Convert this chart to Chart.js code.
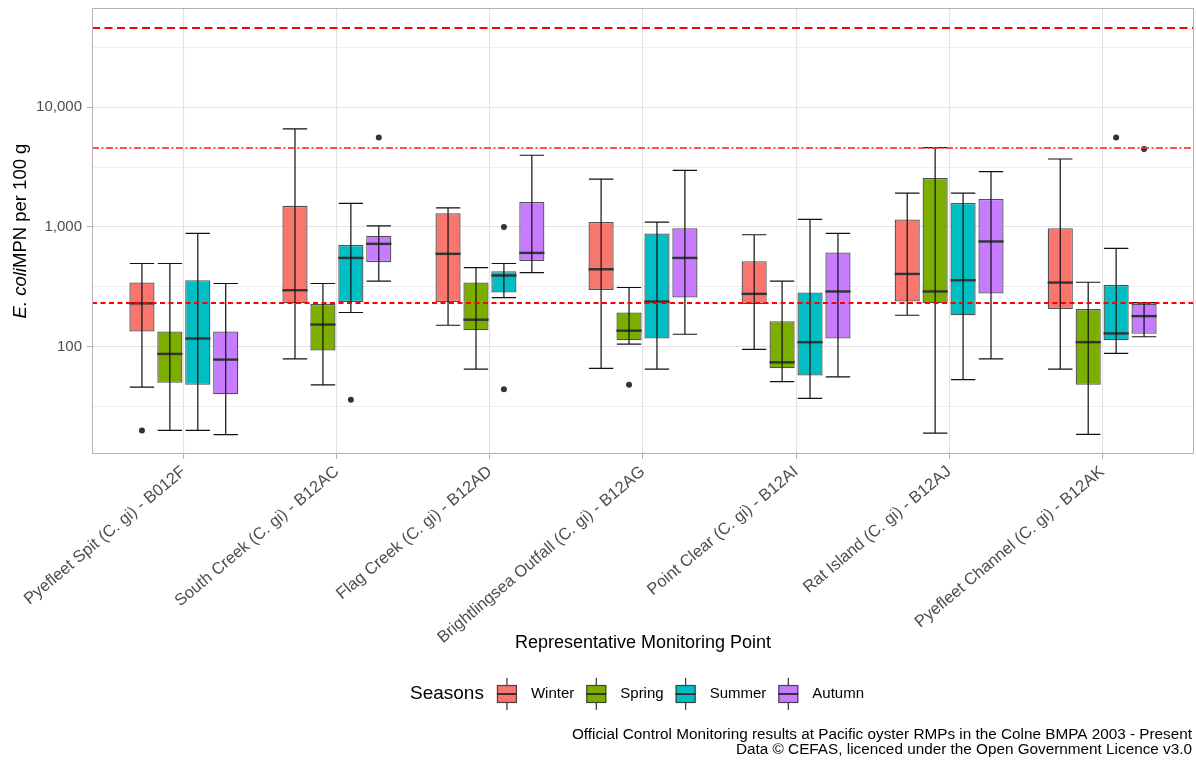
<!DOCTYPE html>
<html>
<head>
<meta charset="utf-8">
<title>E. coli results by season – Colne BMPA</title>
<script src="https://cdn.jsdelivr.net/npm/chart.js@4.4.1/dist/chart.umd.min.js"></script>
<style>
  html, body { margin: 0; padding: 0; background: #ffffff; }
  #wrap { width: 1196px; height: 760px; }
</style>
</head>
<body>
<div id="wrap"><canvas id="chart" width="1196" height="760"></canvas></div>
<script>
// Representative monitoring points (x categories)
const sites = [
  'Pyefleet Spit (C. gi) - B012F',
  'South Creek (C. gi) - B12AC',
  'Flag Creek (C. gi) - B12AD',
  'Brightlingsea Outfall (C. gi) - B12AG',
  'Point Clear (C. gi) - B12AI',
  'Rat Island (C. gi) - B12AJ',
  'Pyefleet Channel (C. gi) - B12AK'
];

const seasons = ['Winter', 'Spring', 'Summer', 'Autumn'];
const seasonColours = ['#F8766D', '#7CAE00', '#00BFC4', '#C77CFF'];

// Box summaries per site: [lower whisker, Q1, median, Q3, upper whisker] (E. coli MPN per 100 g)
const winterStats = [
  [46, 134, 230, 343, 495],
  [79, 230, 296, 1500, 6580],
  [151, 236, 596, 1300, 1440],
  [66, 298, 443, 1100, 2510],
  [95, 227, 276, 517, 860],
  [183, 238, 405, 1156, 1918],
  [65, 206, 343, 977, 3690]
];
const springStats = [
  [20, 50, 87, 134, 495],
  [48, 93, 153, 227, 337],
  [65, 137, 168, 343, 458],
  [105, 113, 136, 193, 312],
  [51, 66, 74, 163, 352],
  [19, 230, 289, 2560, 4600],
  [18.5, 48, 109, 206, 345]
];
const summerStats = [
  [20, 48, 117, 359, 882],
  [193, 236, 551, 708, 1573],
  [257, 283, 393, 427, 495],
  [65, 117, 238, 882, 1097],
  [37, 57.5, 109, 283, 1156],
  [53, 183, 359, 1582, 1918],
  [88, 113, 129, 328, 661]
];
const autumnStats = [
  [18.4, 40, 78, 134, 337],
  [352, 508, 722, 843, 1021],
  [416, 520, 607, 1613, 3966],
  [127, 257, 551, 977, 2970],
  [56, 117, 289, 612, 882],
  [79, 278, 756, 1709, 2891],
  [121, 128, 180, 229, 233]
];

// Outlying results per site
const winterOutliers = [[20], [], [], [], [], [], []];
const springOutliers = [[], [], [], [48], [], [], []];
const summerOutliers = [[], [36], [1000, 44], [], [], [], [5570]];
const autumnOutliers = [[], [5570], [], [], [], [], [4480]];

// Classification thresholds drawn as reference lines (Class A, B, C limits)
const classLimits = [230, 4600, 46000];

// Log axis ticks
const yTickValues = [100, 1000, 10000];
const yTickLabels = ['100', '1,000', '10,000'];
const yMinorValues = [31.62, 316.2, 3162, 31623];

const allStats = [winterStats, springStats, summerStats, autumnStats];
const allOutliers = [winterOutliers, springOutliers, summerOutliers, autumnOutliers];

const FONT = "'Liberation Sans', Arial, Helvetica, sans-serif";
const GREY_TEXT = '#4d4d4d';
const GRID = '#e3e3e3';
const BORDER = '#b3b3b3';

const datasets = seasons.map((name, k) => ({
  label: name,
  data: allStats[k].map((s, i) => ({ x: i, y: [s[1], s[3]] })),
  stats: allStats[k],
  outliers: allOutliers[k],
  backgroundColor: seasonColours[k],
  borderColor: 'rgba(51,51,51,0.85)',
  borderWidth: 1.3,
  borderSkipped: false,
  categoryPercentage: 0.73,
  barPercentage: 0.9
}));

// Whiskers, medians, outliers and threshold lines
const boxExtras = {
  id: 'boxExtras',
  afterDatasetsDraw(chart) {
    const ctx = chart.ctx;
    const y = chart.scales.y;
    const area = chart.chartArea;
    ctx.save();
    ctx.beginPath();
    ctx.rect(area.left, area.top, area.right - area.left, area.bottom - area.top);
    ctx.clip();

    chart.data.datasets.forEach((ds, di) => {
      const meta = chart.getDatasetMeta(di);
      meta.data.forEach((bar, i) => {
        const s = ds.stats[i];
        const x = bar.x;
        const half = bar.width / 2;
        // median
        ctx.strokeStyle = '#333333';
        ctx.lineWidth = 2.4;
        ctx.setLineDash([]);
        ctx.beginPath();
        const ym = y.getPixelForValue(s[2]);
        ctx.moveTo(x - half, ym);
        ctx.lineTo(x + half, ym);
        ctx.stroke();
        // error bar (whiskers)
        ctx.strokeStyle = '#111111';
        ctx.lineWidth = 1.2;
        const yLo = y.getPixelForValue(s[0]);
        const yHi = y.getPixelForValue(s[4]);
        const capHalf = half * 0.97;
        ctx.beginPath();
        ctx.moveTo(x, yLo); ctx.lineTo(x, yHi);
        ctx.moveTo(x - capHalf, yLo); ctx.lineTo(x + capHalf, yLo);
        ctx.moveTo(x - capHalf, yHi); ctx.lineTo(x + capHalf, yHi);
        ctx.stroke();
        // outliers
        ctx.fillStyle = '#333333';
        ds.outliers[i].forEach(v => {
          ctx.beginPath();
          ctx.arc(x, y.getPixelForValue(v), 3, 0, Math.PI * 2);
          ctx.fill();
        });
      });
    });

    // classification limits
    const styles = [
      { dash: [5, 3.5], colour: '#ff0000' },
      { dash: [7, 2.5, 2, 2.5], colour: 'rgba(255,40,40,0.8)' },
      { dash: [8, 4.5], colour: '#ff0000' }
    ];
    classLimits.forEach((v, k) => {
      const py = Math.round(y.getPixelForValue(v));
      ctx.strokeStyle = styles[k].colour;
      ctx.lineWidth = 2;
      ctx.setLineDash(styles[k].dash);
      ctx.beginPath();
      ctx.moveTo(area.left, py);
      ctx.lineTo(area.right, py);
      ctx.stroke();
    });
    ctx.restore();

    // panel border
    ctx.save();
    ctx.strokeStyle = BORDER;
    ctx.lineWidth = 1;
    ctx.strokeRect(Math.round(area.left) + 0.5, Math.round(area.top) + 0.5,
      Math.round(area.right - area.left) - 1, Math.round(area.bottom - area.top) - 1);
    ctx.restore();
  },
  afterDraw(chart) {
    const ctx = chart.ctx;
    const area = chart.chartArea;
    ctx.save();

    // y-axis title: italic species name followed by unit
    const part1 = 'E. coli';
    const part2 = 'MPN per 100 g';
    ctx.translate(21, (area.top + area.bottom) / 2);
    ctx.rotate(-Math.PI / 2);
    ctx.fillStyle = '#000000';
    ctx.textBaseline = 'middle';
    ctx.font = 'italic 18.5px ' + FONT;
    const w1 = ctx.measureText(part1).width;
    ctx.font = '18.5px ' + FONT;
    const w2 = ctx.measureText(part2).width;
    const start = -(w1 + w2) / 2;
    ctx.font = 'italic 18.5px ' + FONT;
    ctx.textAlign = 'left';
    ctx.fillText(part1, start, 0);
    ctx.font = '18.5px ' + FONT;
    ctx.fillText(part2, start + w1, 0);
    ctx.restore();

    // x-axis title
    ctx.save();
    ctx.fillStyle = '#000000';
    ctx.font = '18px ' + FONT;
    ctx.textAlign = 'center';
    ctx.textBaseline = 'middle';
    ctx.fillText('Representative Monitoring Point', (area.left + area.right) / 2, 643);

    // legend
    const legY = 694;
    ctx.textAlign = 'left';
    ctx.font = '19px ' + FONT;
    ctx.fillText('Seasons', 410, legY);
    let kx = 410 + ctx.measureText('Seasons').width + 13;
    ctx.font = '15px ' + FONT;
    seasons.forEach((name, k) => {
      const bw = 20;
      const cx = kx + bw / 2;
      ctx.strokeStyle = '#333333';
      ctx.lineWidth = 1.2;
      ctx.beginPath();
      ctx.moveTo(cx, legY - 16); ctx.lineTo(cx, legY - 9);
      ctx.moveTo(cx, legY + 9); ctx.lineTo(cx, legY + 16);
      ctx.stroke();
      ctx.fillStyle = seasonColours[k];
      ctx.fillRect(kx, legY - 9, bw, 18);
      ctx.strokeStyle = 'rgba(51,51,51,0.85)';
      ctx.strokeRect(kx + 0.5, legY - 9 + 0.5, bw - 1, 17);
      ctx.strokeStyle = '#333333';
      ctx.lineWidth = 2;
      ctx.beginPath();
      ctx.moveTo(kx, legY); ctx.lineTo(kx + bw, legY);
      ctx.stroke();
      ctx.fillStyle = '#000000';
      ctx.fillText(name, kx + 34, legY);
      kx += 34 + ctx.measureText(name).width + 12;
    });

    // caption
    ctx.textAlign = 'right';
    ctx.font = '15.3px ' + FONT;
    ctx.fillStyle = '#000000';
    ctx.fillText('Official Control Monitoring results at Pacific oyster RMPs in the Colne BMPA 2003 - Present', 1192, 735);
    ctx.fillText('Data \u00A9 CEFAS, licenced under the Open Government Licence v3.0', 1192, 750);
    ctx.restore();
  }
};

new Chart(document.getElementById('chart'), {
  type: 'bar',
  data: { datasets },
  plugins: [boxExtras],
  options: {
    responsive: false,
    animation: false,
    devicePixelRatio: 1,
    layout: { padding: { left: 0, right: 2, top: 8, bottom: 0 } },
    plugins: { legend: { display: false }, tooltip: { enabled: false } },
    scales: {
      x: {
        type: 'linear',
        min: -0.6,
        max: 6.6,
        offset: false,
        afterBuildTicks: s => { s.ticks = sites.map((_, i) => ({ value: i })); },
        afterFit: s => { s.height = 306; s.paddingLeft = 0; s.paddingRight = 0; },
        ticks: {
          autoSkip: false,
          minRotation: 40,
          maxRotation: 40,
          padding: 3,
          color: GREY_TEXT,
          font: { family: FONT, size: 16.5 },
          callback: v => sites[v] ?? ''
        },
        grid: { offset: false, color: GRID, lineWidth: 1.1, tickLength: 5, tickColor: BORDER },
        border: { display: false }
      },
      y: {
        type: 'logarithmic',
        min: 12.7,
        max: 67300,
        afterBuildTicks: s => {
          s.ticks = [...yMinorValues, ...yTickValues].sort((a, b) => a - b).map(v => ({ value: v }));
        },
        afterFit: s => { s.width = 92; s.paddingTop = 0; s.paddingBottom = 0; },
        ticks: {
          autoSkip: false,
          padding: 5,
          color: GREY_TEXT,
          font: { family: FONT, size: 15 },
          callback: v => {
            const k = yTickValues.indexOf(v);
            return k >= 0 ? yTickLabels[k] : '';
          }
        },
        grid: {
          color: GRID,
          lineWidth: c => (c.tick && yTickValues.includes(c.tick.value)) ? 1.1 : 0.6,
          tickLength: 5,
          tickColor: c => (c.tick && yTickValues.includes(c.tick.value)) ? BORDER : 'rgba(0,0,0,0)'
        },
        border: { display: false }
      }
    }
  }
});
</script>
</body>
</html>
